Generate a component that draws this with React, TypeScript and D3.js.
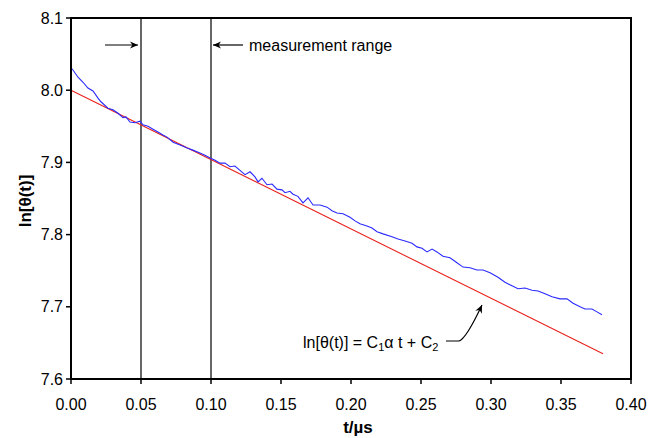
import React from "react";
import * as d3 from "d3";

const tValues = [0.0, 0.0014, 0.005, 0.0086, 0.0121, 0.0157, 0.0193, 0.0214, 0.0264, 0.03, 0.0336, 0.0371, 0.0393, 0.0421, 0.0457, 0.0493, 0.0514, 0.055, 0.0586, 0.0621, 0.0657, 0.0686, 0.0729, 0.0779, 0.0829, 0.0871, 0.0921, 0.0957, 0.0993, 0.1029, 0.1064, 0.11, 0.1136, 0.1171, 0.1207, 0.1243, 0.1279, 0.1314, 0.1336, 0.1364, 0.14, 0.1436, 0.1471, 0.1507, 0.1529, 0.1564, 0.1586, 0.1621, 0.1657, 0.1693, 0.1729, 0.1779, 0.1829, 0.1864, 0.19, 0.1943, 0.1993, 0.2029, 0.2064, 0.2114, 0.215, 0.2186, 0.2229, 0.2293, 0.2336, 0.2386, 0.2436, 0.2471, 0.2507, 0.2543, 0.2579, 0.2614, 0.2657, 0.2707, 0.2757, 0.28, 0.285, 0.29, 0.2943, 0.2993, 0.305, 0.31, 0.315, 0.3193, 0.3243, 0.3293, 0.3336, 0.3386, 0.3436, 0.3493, 0.3543, 0.3586, 0.3636, 0.3671, 0.3721, 0.3757, 0.3793];

const measured = [8.031, 8.028, 8.018, 8.011, 8.003, 7.999, 7.989, 7.984, 7.975, 7.973, 7.968, 7.962, 7.963, 7.956, 7.955, 7.957, 7.952, 7.95, 7.946, 7.942, 7.938, 7.935, 7.928, 7.924, 7.92, 7.917, 7.913, 7.91, 7.906, 7.903, 7.899, 7.899, 7.894, 7.895, 7.889, 7.883, 7.887, 7.88, 7.873, 7.878, 7.869, 7.87, 7.863, 7.862, 7.858, 7.86, 7.856, 7.853, 7.844, 7.851, 7.841, 7.841, 7.838, 7.833, 7.83, 7.829, 7.824, 7.819, 7.815, 7.812, 7.809, 7.804, 7.801, 7.797, 7.794, 7.791, 7.788, 7.783, 7.781, 7.776, 7.78, 7.776, 7.77, 7.768, 7.761, 7.755, 7.754, 7.751, 7.751, 7.747, 7.741, 7.734, 7.729, 7.725, 7.726, 7.723, 7.722, 7.718, 7.714, 7.711, 7.711, 7.705, 7.7, 7.697, 7.697, 7.693, 7.689];

const fitT = [0.0, 0.38];
const fitV = [8.0, 7.635];

const xTicks = [0, 0.05, 0.1, 0.15, 0.2, 0.25, 0.3, 0.35, 0.4];
const yTicks = [7.6, 7.7, 7.8, 7.9, 8.0, 8.1];
const rangeMarks = [0.05, 0.1];

const W = 649;
const H = 438;
const L = 71, R = 631, T = 18, B = 379;
const FONT = "Liberation Sans, Arial, sans-serif";

export default function App() {
  const x = d3.scaleLinear().domain([0, 0.4]).range([L, R]);
  const y = d3.scaleLinear().domain([7.6, 8.1]).range([B, T]);
  const line = d3.line<[number, number]>().x((d) => x(d[0])).y((d) => y(d[1]));
  const blue = line(tValues.map((t, i) => [t, measured[i]] as [number, number])) || "";
  const red = line(fitT.map((t, i) => [t, fitV[i]] as [number, number])) || "";

  return (
    <svg width={W} height={H} style={{ position: "absolute", left: 0, top: 0, background: "#fff" }} fontFamily={FONT}>
      <defs>
        <marker id="ah" viewBox="0 0 10 10" refX="10" refY="5" markerWidth="11" markerHeight="8" orient="auto" markerUnits="userSpaceOnUse">
          <path d="M0,0.5 L10,5 L0,9.5 L3,5 Z" fill="#000" />
        </marker>
      </defs>
      <rect x={0} y={0} width={W} height={H} fill="#fff" />
      {rangeMarks.map((m) => (
        <line key={m} x1={x(m)} x2={x(m)} y1={T} y2={B} stroke="#000" strokeWidth={1.2} />
      ))}
      <path d={red} fill="none" stroke="#e8221e" strokeWidth={1.1} />
      <path d={blue} fill="none" stroke="#2a2aff" strokeWidth={1.1} />
      <rect x={L} y={T} width={R - L} height={B - T} fill="none" stroke="#000" strokeWidth={2} />
      {yTicks.map((v) => (
        <g key={v}>
          <line x1={L - 5} x2={L} y1={y(v)} y2={y(v)} stroke="#000" strokeWidth={1.5} />
          <text x={L - 8} y={y(v)} dy="0.35em" textAnchor="end" fontSize={16} fill="#000">
            {v.toFixed(1)}
          </text>
        </g>
      ))}
      {xTicks.map((v) => (
        <g key={v}>
          <line x1={x(v)} x2={x(v)} y1={B} y2={B + 5} stroke="#000" strokeWidth={1.5} />
          <text x={x(v)} y={410} textAnchor="middle" fontSize={16} fill="#000">
            {v.toFixed(2)}
          </text>
        </g>
      ))}
      <text x={358} y={433} textAnchor="middle" fontSize={17} fontWeight="bold" fill="#000">t/µs</text>
      <text transform={`translate(31,201) rotate(-90)`} textAnchor="middle" fontSize={17} fontWeight="bold" fill="#000">
        ln[θ(t)]
      </text>
      <line x1={105} x2={x(0.05) - 3} y1={45} y2={45} stroke="#000" strokeWidth={1.2} markerEnd="url(#ah)" />
      <line x1={243} x2={x(0.1) + 2} y1={45} y2={45} stroke="#000" strokeWidth={1.2} markerEnd="url(#ah)" />
      <text x={249} y={51} fontSize={16} fill="#000">measurement range</text>
      <text x={303} y={348} fontSize={16} fill="#000">
        ln[θ(t)] = C<tspan fontSize={11} dy={3}>1</tspan>
        <tspan dy={-3}>α t + C</tspan>
        <tspan fontSize={11} dy={3}>2</tspan>
      </text>
      <path d="M446,341 L459,341 Q466,339 482,305" fill="none" stroke="#000" strokeWidth={1.2} markerEnd="url(#ah)" />
    </svg>
  );
}
